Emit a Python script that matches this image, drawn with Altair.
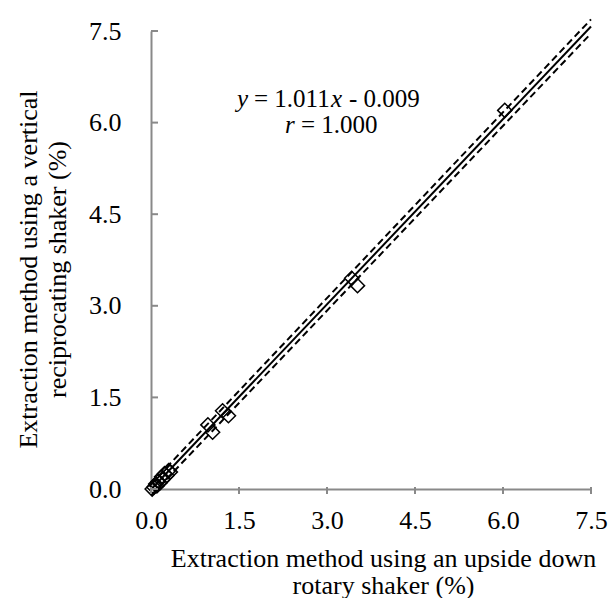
import altair as alt
import pandas as pd

# observed data (x: upside-down rotary shaker, y: vertical reciprocating shaker), %
obs_x = [0.02, 0.05, 0.08, 0.10, 0.12, 0.15, 0.18, 0.20, 0.23, 0.27, 0.30, 0.33,
         0.97, 1.05, 1.22, 1.32, 3.42, 3.52, 6.03]
obs_y = [0.00, 0.03, 0.08, 0.05, 0.12, 0.10, 0.20, 0.15, 0.25, 0.22, 0.30, 0.28,
         1.05, 0.93, 1.28, 1.20, 3.45, 3.33, 6.20]

# regression line y = 1.011x - 0.009 and its dashed bands
line_x = [0.0, 7.5]
fit_y = [-0.009, 7.574]
upper_y = [0.085, 7.69]
lower_y = [-0.105, 7.46]

tick_vals = [0.0, 1.5, 3.0, 4.5, 6.0, 7.5]

FONT = "Liberation Serif"
AX = "#898989"

pts = pd.DataFrame({"x": obs_x, "y": obs_y})
lines = pd.DataFrame(
    [{"x": a, "y": b, "s": "fit"} for a, b in zip(line_x, fit_y)]
    + [{"x": a, "y": b, "s": "upper"} for a, b in zip(line_x, upper_y)]
    + [{"x": a, "y": b, "s": "lower"} for a, b in zip(line_x, lower_y)]
)
ticks = pd.DataFrame({"v": tick_vals})

xs = alt.Scale(domain=[0, 7.5], nice=False, zero=False)
ys = alt.Scale(domain=[0, 7.5], nice=False, zero=False)

xaxis = alt.Axis(values=tick_vals, format=".1f", ticks=False, grid=False,
                 domainColor=AX, domainWidth=2, labelFont=FONT, labelFontSize=26,
                 labelColor="black", labelPadding=18, labelFlush=False,
                 title=["Extraction method using an upside down", "rotary shaker (%)"],
                 titleFont=FONT, titleFontSize=26, titleFontWeight="normal",
                 titleColor="black", titleLineHeight=27, titleX=232, titleY=77,
                 titleBaseline="alphabetic", titleAlign="center")
yaxis = alt.Axis(values=tick_vals, format=".1f", ticks=False, grid=False,
                 domainColor=AX, domainWidth=2, labelFont=FONT, labelFontSize=26,
                 labelColor="black", labelPadding=30, labelFlush=False,
                 title=["Extraction method using a vertical", "reciprocating shaker (%)"],
                 titleFont=FONT, titleFontSize=26, titleFontWeight="normal",
                 titleColor="black", titleLineHeight=29, titleX=-115, titleY=238,
                 titleAngle=-90, titleBaseline="alphabetic", titleAlign="center")

base_lines = alt.Chart(lines)
fit = base_lines.transform_filter(alt.datum.s == "fit").mark_line(
    color="black", strokeWidth=2).encode(
    x=alt.X("x:Q", scale=xs, axis=xaxis), y=alt.Y("y:Q", scale=ys, axis=yaxis))
upper = base_lines.transform_filter(alt.datum.s == "upper").mark_line(
    color="black", strokeWidth=2, strokeDash=[7, 4]).encode(x="x:Q", y="y:Q")
lower = base_lines.transform_filter(alt.datum.s == "lower").mark_line(
    color="black", strokeWidth=2, strokeDash=[7, 4]).encode(x="x:Q", y="y:Q")

points = alt.Chart(pts).mark_point(shape="diamond", size=200, filled=False,
                                   color="black", strokeWidth=1.5, opacity=1).encode(
    x="x:Q", y="y:Q")

xticks = alt.Chart(ticks).mark_rule(color=AX, strokeWidth=2).encode(
    x="v:Q", y=alt.value(463), y2=alt.value(456))
yticks = alt.Chart(ticks).mark_rule(color=AX, strokeWidth=2).encode(
    y="v:Q", x=alt.value(0), x2=alt.value(7))

def txt(s, px, py, italic=False):
    kw = dict(font=FONT, fontSize=25, align="left", baseline="alphabetic", color="black")
    if italic:
        kw["fontStyle"] = "italic"
    return alt.Chart(pd.DataFrame({"t": [s]})).mark_text(**kw).encode(
        text="t:N", x=alt.value(px), y=alt.value(py))

ann = [
    txt("y", 86, 76, True),
    txt("= 1.011", 103, 76),
    txt("x", 180, 76, True),
    txt("- 0.009", 198, 76),
    txt("r", 134, 102, True),
    txt("= 1.000", 150, 102),
]

chart = alt.layer(fit, upper, lower, points, xticks, yticks, *ann).properties(
    width=600, height=590,
    autosize=alt.AutoSizeParams(type="fit", contains="padding"),
    padding={"left": 6, "top": 4, "right": 0, "bottom": 0},
).configure_view(stroke=None)

chart.save("out.html", embed_options={"renderer": "svg", "actions": False})
